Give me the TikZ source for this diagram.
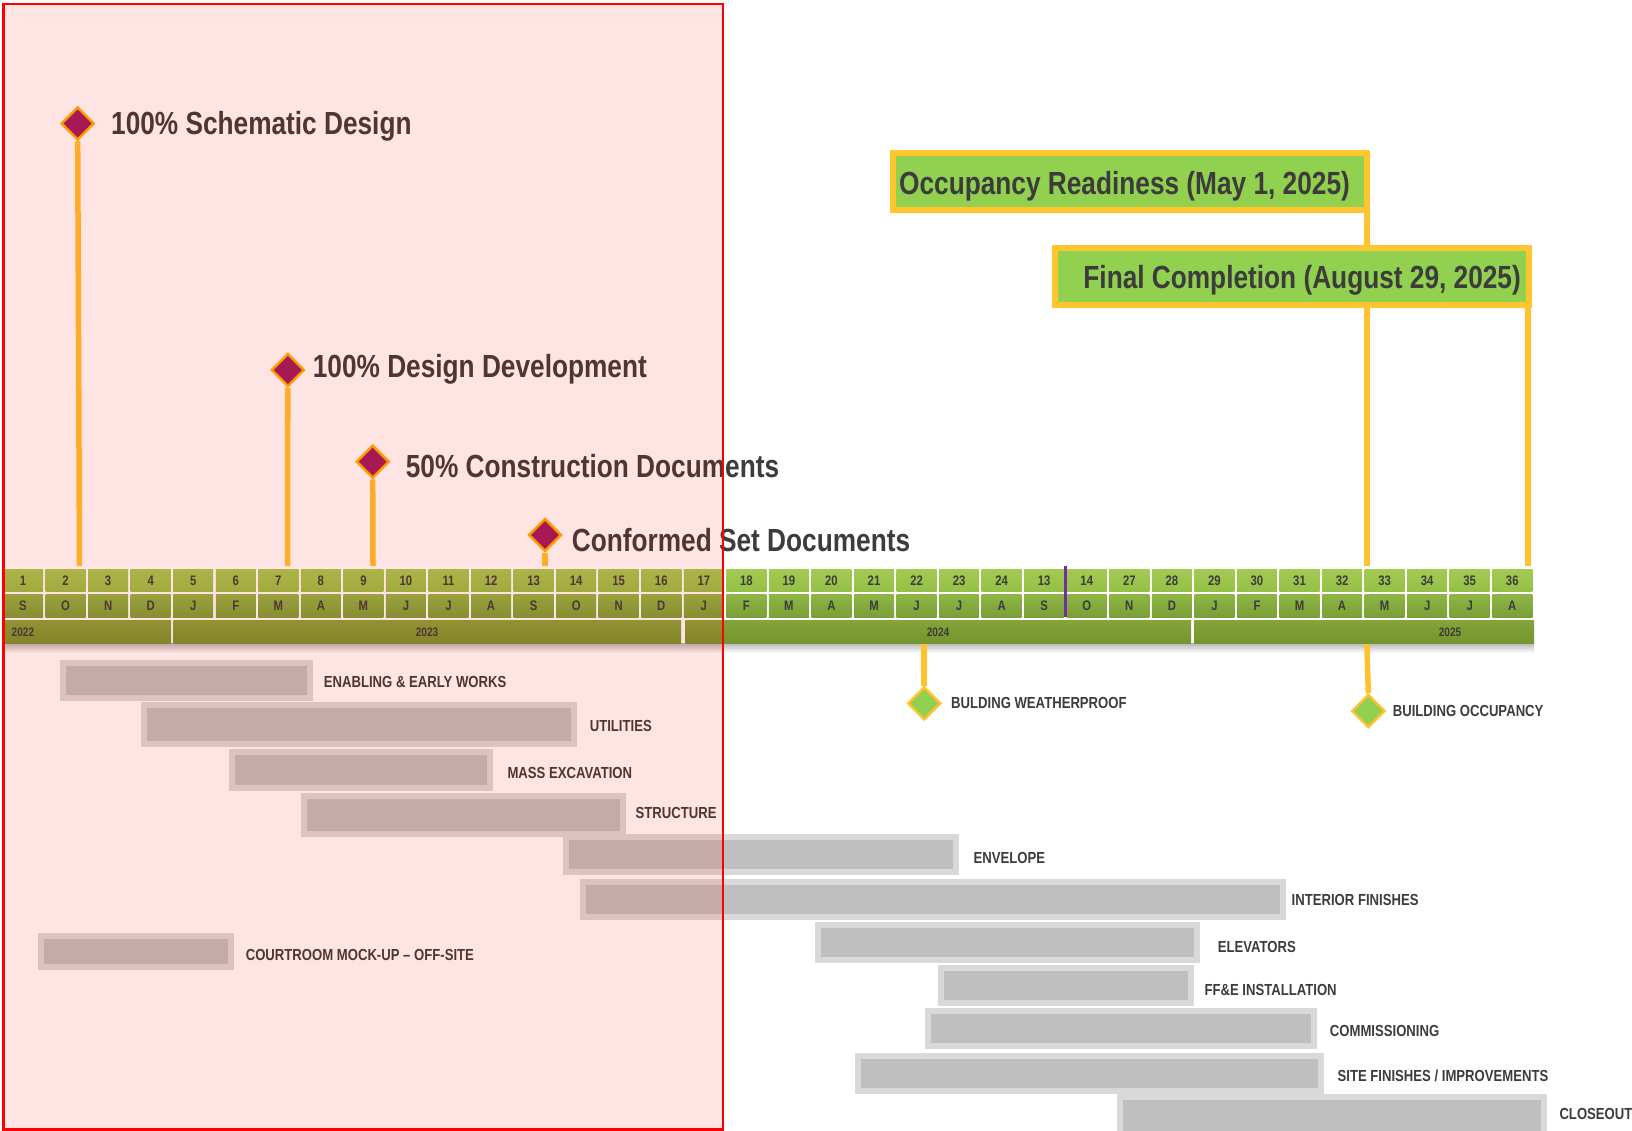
\documentclass[tikz,border=0pt]{standalone}
\usepackage{fontspec}
\newfontfamily\narb{Liberation Sans Bold}[FakeStretch=0.82]
\usetikzlibrary{shapes.geometric}
\pgfdeclarelayer{bg}
\pgfsetlayers{bg,main}
\definecolor{txt}{HTML}{3C3C3C}
\definecolor{stemc}{HTML}{FFC12E}
\definecolor{dborder}{HTML}{FFAE00}
\definecolor{mag}{HTML}{9B1E5E}
\definecolor{lgreen}{HTML}{92D050}
\definecolor{boxborder}{HTML}{FFC62F}
\definecolor{barout}{HTML}{D9D9D9}
\definecolor{barin}{HTML}{BFBFBF}
\definecolor{numtop}{HTML}{A3CA52}
\definecolor{numbot}{HTML}{95BF46}
\definecolor{montop}{HTML}{8EB644}
\definecolor{monbot}{HTML}{7A9F37}
\definecolor{yeartop}{HTML}{84A53A}
\definecolor{yearbot}{HTML}{74942E}
\definecolor{purpl}{HTML}{7030A0}
\newcommand\gbar[8]{%
  \node[barbox, minimum width={(#4-#2-6)*1pt}, minimum height={(#5-#3-6)*1pt}] (#1) at ({(#2+#4)/2},{(#3+#5)/2}) {};
  \node[blabel] (#1t) at (#7,#8) {#6};}
\begin{document}
\begin{tikzpicture}[x=1pt,y=-1pt,
  stem/.style={line width=5.5pt, draw=stemc},
  msd/.style={diamond, aspect=1, minimum width=33pt, minimum height=33pt, inner sep=0pt, fill=mag, draw=dborder, line width=2.5pt},
  gmsd/.style={msd, fill=lgreen, draw=stemc},
  mlabel/.style={inner sep=0pt, anchor=base west, text=txt, font=\narb\fontsize{32}{38}\selectfont},
  blabel/.style={inner sep=0pt, anchor=west, text height=11.5pt, text depth=0pt, text=txt, font=\narb\fontsize{16}{19}\selectfont},
  bigbox/.style={draw=boxborder, line width=6pt, fill=lgreen, inner sep=0pt, minimum width=474.5pt, minimum height=57pt},
  barbox/.style={draw=barout, line width=6pt, fill=barin, inner sep=0pt},
  numcell/.style={minimum width=40pt, minimum height=22.7pt, inner sep=0pt, top color=numtop, bottom color=numbot, text=txt, text height=9.9pt, text depth=0pt, font=\narb\fontsize{13.8}{16}\selectfont},
  moncell/.style={numcell, minimum height=23pt, top color=montop, bottom color=monbot},
  yearcell/.style={minimum height=23.3pt, inner sep=0pt, top color=yeartop, bottom color=yearbot},
  ylabel/.style={inner sep=0pt, text=txt, text height=8.8pt, text depth=0pt, font=\narb\fontsize{12.3}{14}\selectfont}
]
\useasboundingbox (0,0) rectangle (1632,1131);
\begin{pgfonlayer}{bg}
  \fill[white] (0,0) rectangle (1632,1131);
  \shade[top color=black!28, bottom color=white] (3,643.3) rectangle (1534,653);
\end{pgfonlayer}

% ---------- timeline ----------
\foreach \n/\m [count=\i] in {1/S,2/O,3/N,4/D,5/J,6/F,7/M,8/A,9/M,10/J,11/J,12/A,13/S,14/O,15/N,16/D,17/J,18/F,19/M,20/A,21/M,22/J,23/J,24/A,13/S,14/O,27/N,28/D,29/J,30/F,31/M,32/A,33/M,34/J,35/J,36/A}{
  \pgfmathsetmacro\cx{23+42.55*(\i-1)}
  \node[numcell] (n\i) at (\cx,580.35) {\n};
  \node[moncell] (m\i) at (\cx,605.8) {\m};
}
\node[yearcell, minimum width=168pt] (y22) at (87,631.65) {};
\node[yearcell, minimum width=507.7pt] (y23) at (427.15,631.65) {};
\node[yearcell, minimum width=505.6pt] (y24) at (938.2,631.65) {};
\node[yearcell, minimum width=340pt] (y25) at (1364,631.65) {};
\node[ylabel, anchor=west] (y22t) at (11.5,631.65) {2022};
\node[ylabel] (y23t) at (427,631.65) {2023};
\node[ylabel] (y24t) at (938,631.65) {2024};
\node[ylabel] (y25t) at (1450,631.65) {2025};
\coordinate (pa) at (1065.5,566);
\coordinate (pb) at (1065.5,617.3);
\draw[purpl, line width=2.6pt] (pa) -- (pb);

% ---------- design milestones ----------
\node[msd] (ms1) at (77.7,123.5) {};
\node[mlabel] (ms1t) at (111,135) {100\% Schematic Design};
\node[msd] (ms2) at (287.8,370) {};
\node[mlabel] (ms2t) at (312.7,377.7) {100\% Design Development};
\node[msd] (ms3) at (372.7,461.7) {};
\node[mlabel] (ms3t) at (405.7,477.3) {50\% Construction Documents};
\node[msd] (ms4) at (545,535) {};
\node[mlabel] (ms4t) at (571.7,551.7) {Conformed Set Documents};
\coordinate (e1) at (79.5,566);
\coordinate (e2) at (287.5,566);
\coordinate (e3) at (373,566);
\coordinate (e4) at (545,566);

% ---------- completion boxes ----------
\node[bigbox] (occ) at (1129.75,181.5) {};
\node[mlabel] (occt) at (899,195) {Occupancy Readiness (May 1, 2025)};
\node[bigbox] (fin) at (1291.75,276.5) {};
\node[mlabel, anchor=base east] (fint) at (1521,289) {Final Completion (August 29, 2025)};
\coordinate (e5) at (1366.8,566);
\coordinate (e6) at (1528,566);

% ---------- construction milestones ----------
\node[gmsd] (wp) at (924.2,703.3) {};
\node[blabel] (wpt) at (951,702.7) {BULDING WEATHERPROOF};
\node[gmsd] (bo) at (1368.3,711) {};
\node[blabel] (bot) at (1392.6,710.7) {BUILDING OCCUPANCY};
\coordinate (w0) at (924.2,644);
\coordinate (b0) at (1366.8,644);

\begin{pgfonlayer}{bg}
  \draw[stem] (ms1.south) -- (e1);
  \draw[stem] (ms2.south) -- (e2);
  \draw[stem] (ms3.south) -- (e3);
  \draw[stem] (ms4.south) -- (e4);
  \draw[stem] (occ.south -| e5) -- (e5);
  \draw[stem] (fin.south -| e6) -- (e6);
  \draw[stem] (w0) -- (wp.north);
  \draw[stem] (b0) -- (bo.north);
\end{pgfonlayer}

% ---------- gantt bars ----------
\gbar{b1}{60.4}{659.5}{312.5}{700.6}{ENABLING \& EARLY WORKS}{323.7}{681.7}
\gbar{b2}{141}{701.5}{576.6}{746.8}{UTILITIES}{589.6}{725.6}
\gbar{b3}{228.6}{749.3}{493.2}{790.7}{MASS EXCAVATION}{507.3}{772.6}
\gbar{b4}{301.2}{792.5}{626.3}{836.8}{STRUCTURE}{635.5}{812.8}
\gbar{b5}{563}{834.3}{958.5}{875.3}{ENVELOPE}{973.5}{857.3}
\gbar{b6}{579.7}{879.3}{1285.8}{920}{INTERIOR FINISHES}{1291.5}{900.2}
\gbar{b7}{815}{922}{1200.2}{963}{ELEVATORS}{1217.6}{947}
\gbar{b8}{938.3}{965}{1193.9}{1005.7}{FF\&E INSTALLATION}{1204.3}{990}
\gbar{b9}{925}{1008.3}{1316.5}{1049.3}{COMMISSIONING}{1329.7}{1031.2}
\gbar{b10}{854.8}{1052.7}{1324}{1093.7}{SITE FINISHES / IMPROVEMENTS}{1337.4}{1075.3}
\gbar{b11}{1116.6}{1094.3}{1547}{1137}{CLOSEOUT}{1559.3}{1113.8}
\gbar{b12}{37.5}{932.6}{234.2}{970.2}{COURTROOM MOCK-UP – OFF-SITE}{245.6}{954.4}

% ---------- highlight overlay ----------
\fill[red, fill opacity=0.105] (3.5,4) rectangle (723,1129.5);
\draw[red, line width=2.2pt] (3.5,4) rectangle (723,1129.5);
\end{tikzpicture}
\end{document}
